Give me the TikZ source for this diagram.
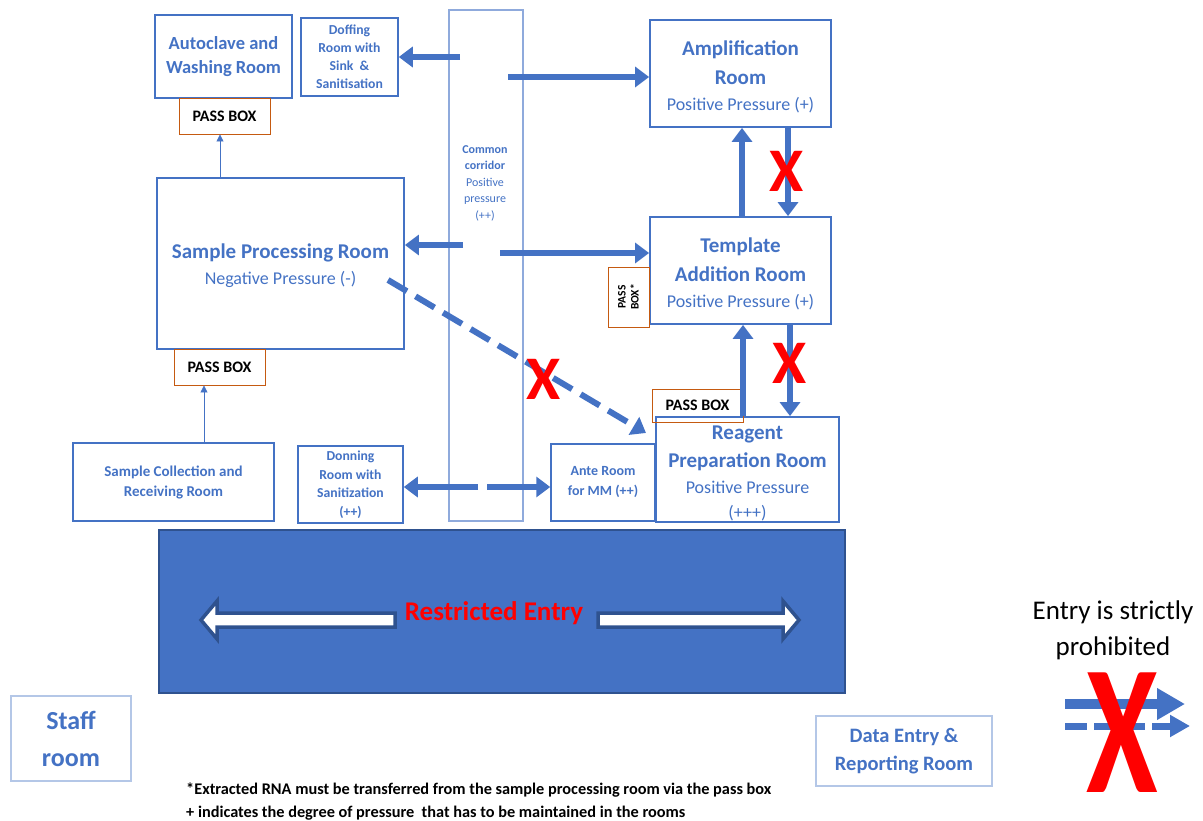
\documentclass[tikz,border=0pt]{standalone}
\usepackage{fontspec}
\setmainfont{Carlito}
\usetikzlibrary{arrows.meta}
\definecolor{blu}{HTML}{4472C4}
\definecolor{lblu}{HTML}{8FAADC}
\definecolor{llblu}{HTML}{B4C7E7}
\definecolor{orng}{HTML}{C55A11}
\definecolor{dblu}{HTML}{2F528F}
\newcommand{\fs}[2]{\fontsize{#1}{#2}\selectfont}
\newcommand{\topstrut}[1]{\rule{0pt}{#1}}
\begin{document}
\begin{tikzpicture}[x=1pt,y=-1pt,
  room/.style={draw=blu, line width=1.8pt, inner sep=0pt, align=center, text=blu, font=\bfseries},
  lroom/.style={draw=llblu, line width=1.2pt, inner sep=0pt, align=center, text=blu, font=\bfseries},
  pass/.style={draw=orng, line width=0.9pt, inner sep=0pt, align=center, font=\bfseries\fs{16}{17}},
  big/.style={-{Triangle[length=14pt,width=20pt]}, line width=6pt, draw=blu},
  thinarr/.style={-{Triangle[length=7pt,width=7pt]}, line width=0.8pt, draw=blu},
  redx/.style={text=red, font=\bfseries\fs{62}{62}, inner sep=0pt},
  wharrow/.style={fill=white, draw=dblu, line width=3.5pt, line join=miter}
]
\useasboundingbox (0,0) rectangle (1203,821);

% corridor
\node[draw=lblu, line width=1.5pt, minimum width=74pt, minimum height=511pt, inner sep=0pt] (corr) at (486,265.5) {};
\node[align=center, text=blu, inner sep=0pt, font=\fs{12}{16.5}] (corrtext) at (485,183) {\bfseries Common\\\bfseries corridor\\\mdseries Positive\\\mdseries pressure\\\mdseries (++)};

% rooms
\node[room, minimum width=137pt, minimum height=83pt, font=\bfseries\fs{18.5}{24}] (auto) at (223.5,56.5) {Autoclave and\\Washing Room};
\node[pass, minimum width=91pt, minimum height=36pt] (pass1) at (224.5,116) {PASS BOX};
\node[room, line width=1.5pt, minimum width=97pt, minimum height=78pt, font=\bfseries\fs{13.7}{18}] (doff) at (349.5,57) {Doffing\\Room with\\Sink \ \&\\Sanitisation};
\node[room, minimum width=181pt, minimum height=107pt, font=\bfseries\fs{21}{29}] (amp) at (740.5,73.5) {\topstrut{21pt}Amplification\\Room\\[-3pt]\mdseries\fs{18}{26}Positive Pressure (+)};
\node[room, minimum width=247pt, minimum height=171pt, font=\bfseries\fs{21}{26}] (sp) at (280.5,263.5) {\topstrut{20pt}Sample Processing Room\\\mdseries\fs{18}{26}Negative Pressure (-)};
\node[pass, minimum width=91pt, minimum height=36pt] (pass2) at (219.5,367) {PASS BOX};
\node[room, minimum width=181pt, minimum height=107pt, font=\bfseries\fs{21}{29}] (tmpl) at (740.5,270.5) {\topstrut{21pt}Template\\Addition Room\\[-3pt]\mdseries\fs{18}{26}Positive Pressure (+)};
\node[pass, rotate=90, minimum width=60pt, minimum height=41pt, font=\bfseries\fs{11.5}{13}] (pass3) at (628.5,297) {PASS\\BOX*};
\node[room, minimum width=183pt, minimum height=105pt, font=\bfseries\fs{21}{28}] (reag) at (747.5,469.5) {\topstrut{22pt}Reagent\\Preparation Room\\[-2pt]\mdseries\fs{18}{25.5}Positive Pressure\\[-3pt]\mdseries\fs{18}{25}(+++)};
\node[pass, minimum width=91pt, minimum height=33pt] (pass4) at (697.5,405.5) {PASS BOX};
\node[room, line width=1.5pt, minimum width=201pt, minimum height=78pt, font=\bfseries\fs{15}{20}] (coll) at (173.5,482) {Sample Collection and\\Receiving Room};
\node[room, line width=1.5pt, minimum width=105pt, minimum height=77pt, font=\bfseries\fs{13.7}{18.5}] (don) at (350.5,484.5) {Donning\\Room with\\Sanitization\\(++)};
\node[room, line width=1.5pt, minimum width=104pt, minimum height=77pt, font=\bfseries\fs{14}{20}] (ante) at (603,482.5) {Ante Room\\for MM (++)};

% restricted area
\node[fill=blu, draw=dblu, line width=1.5pt, minimum width=686pt, minimum height=163pt, inner sep=0pt] (restr) at (502,611.5) {};
\draw[wharrow] (201,620) -- (217,601) -- (217,613) -- (395,613) -- (395,627) -- (217,627) -- (217,639) -- cycle;
\draw[wharrow] (799,620) -- (783,601) -- (783,613) -- (598,613) -- (598,627) -- (783,627) -- (783,639) -- cycle;
\node[text=red, font=\bfseries\fs{27}{27}, inner sep=0pt] (restrtext) at (494,613) {Restricted Entry};

% other rooms
\node[lroom, minimum width=120pt, minimum height=85pt, font=\bfseries\fs{26}{37}] (staff) at (71,738.5) {Staff\\room};
\node[lroom, minimum width=176pt, minimum height=70pt, font=\bfseries\fs{20.5}{28}] (data) at (904,751) {Data Entry \&\\Reporting Room};

% notes
\node[anchor=west, inner sep=0pt, font=\bfseries\fs{16.3}{18}] (note1) at (186,790) {*Extracted RNA must be transferred from the sample processing room via the pass box};
\node[anchor=west, inner sep=0pt, font=\bfseries\fs{16.3}{18}] (note2) at (186,813) {+ indicates the degree of pressure \ that has to be maintained in the rooms};

% legend
\node[align=center, inner sep=0pt, font=\fs{27}{36}] (legtext) at (1113,630) {Entry is strictly\\prohibited};
\coordinate (l1) at (1065,704);
\coordinate (l1e) at (1185,704);
\coordinate (l2) at (1065,726);
\coordinate (l2e) at (1190,726);
\draw[blu, line width=10pt, -{Triangle[length=28pt,width=30pt]}] (l1) -- (l1e);
\draw[blu, line width=7pt, dash pattern=on 22pt off 7pt, -{Triangle[length=20pt,width=21pt]}] (l2) -- (l2e);
\node[redx, font=\bfseries\fs{130}{130}, yscale=1.42] (legx) at (1122,733) {X};

% thin arrows
\coordinate (t1) at (220,178);
\coordinate (t2) at (204,443);
\draw[thinarr] (t1) -- (t1 |- pass1.south);
\draw[thinarr] (t2) -- (t2 |- pass2.south);

% corridor arrows
\coordinate (c1) at (460,57);
\coordinate (c2) at (508,77);
\coordinate (c3) at (463,245);
\coordinate (c4) at (500,253);
\coordinate (c5) at (478,487);
\coordinate (c6) at (487,487);
\draw[big] (c1) -- (c1 -| doff.east);
\draw[big] (c2) -- (c2 -| amp.west);
\draw[big] (c3) -- (c3 -| sp.east);
\draw[big] (c4) -- (c4 -| tmpl.west);
\draw[big] (c5) -- (c5 -| don.east);
\draw[big] (c6) -- (c6 -| ante.west);

% vertical arrows
\coordinate (u1) at (742,0);
\coordinate (d1) at (788,0);
\coordinate (u2) at (743,0);
\coordinate (d2) at (790,0);
\draw[big] (u1 |- tmpl.north) -- (u1 |- amp.south);
\draw[big] (d1 |- amp.south) -- (d1 |- tmpl.north);
\draw[big] (u2 |- reag.north) -- (u2 |- tmpl.south);
\draw[big] (d2 |- tmpl.south) -- (d2 |- reag.north);

% dashed arrow
\coordinate (ds) at (388,280);
\coordinate (de) at (646,433);
\draw[big, dash pattern=on 22pt off 10pt] (ds) -- (de);

% red crosses
\node[redx] (x1) at (787,171) {X};
\node[redx] (x2) at (790,363) {X};
\node[redx] (x3) at (544,379) {X};
\end{tikzpicture}
\end{document}
